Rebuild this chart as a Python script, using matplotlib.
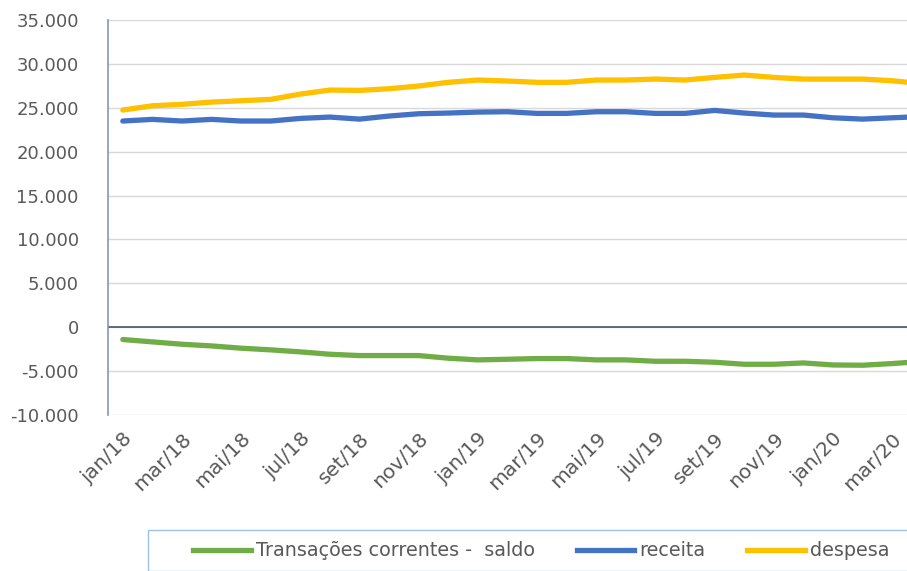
import matplotlib
matplotlib.use("Agg")
import matplotlib.pyplot as plt
import matplotlib.ticker as mticker
from matplotlib.lines import Line2D
from matplotlib.patches import Rectangle
import numpy as np

MONTHS = ["jan/18", "fev/18", "mar/18", "abr/18", "mai/18", "jun/18", "jul/18",
          "ago/18", "set/18", "out/18", "nov/18", "dez/18", "jan/19", "fev/19",
          "mar/19", "abr/19", "mai/19", "jun/19", "jul/19", "ago/19", "set/19",
          "out/19", "nov/19", "dez/19", "jan/20", "fev/20", "mar/20", "abr/20"]
SALDO = [-1400, -1670, -1940, -2130, -2390, -2580, -2810, -3080, -3230, -3230,
         -3230, -3530, -3720, -3650, -3570, -3570, -3720, -3720, -3880, -3880,
         -3990, -4220, -4220, -4070, -4300, -4330, -4140, -3900]
RECEITA = [23490, 23680, 23490, 23680, 23490, 23490, 23790, 23940, 23710, 24060,
           24320, 24400, 24510, 24550, 24360, 24360, 24550, 24550, 24360, 24360,
           24700, 24400, 24170, 24170, 23860, 23710, 23860, 24000]
DESPESA = [24740, 25230, 25390, 25650, 25800, 25960, 26560, 27020, 26980, 27170,
           27480, 27900, 28160, 28050, 27900, 27900, 28160, 28160, 28270, 28160,
           28460, 28730, 28460, 28270, 28270, 28270, 28080, 27750]
LABELS = ["Transações correntes -  saldo", "receita", "despesa"]
COLORS = ["#70ad47", "#4472c4", "#ffc000"]

plt.rcParams["font.family"] = ["DejaVu Sans"]

fig = plt.figure(figsize=(9.07, 5.71), dpi=100)
ax = fig.add_axes([108 / 907, 1 - 415 / 571, 1 - 108 / 907, (415 - 20) / 571])

x = np.arange(len(MONTHS))
for vals, c in zip([SALDO, RECEITA, DESPESA], COLORS):
    ax.plot(x, vals, color=c, lw=3.8, solid_capstyle="round", solid_joinstyle="round",
            zorder=3)

ax.set_xlim(-0.5, 26.5)
ax.set_ylim(-10000, 35000)
ax.set_yticks(np.arange(-10000, 35001, 5000))
ax.yaxis.set_major_formatter(mticker.FuncFormatter(lambda v, p: f"{v:,.0f}".replace(",", ".")))
ax.grid(axis="y", color="#d9d9d9", lw=1.0, zorder=0)
ax.axhline(0, color="#44546a", lw=1.2, zorder=2)

ax.set_xticks(x[:27:2])
ax.set_xticklabels(MONTHS[:27:2], rotation=45, ha="right", rotation_mode="anchor")
ax.tick_params(axis="both", length=0, labelcolor="#595959")
ax.tick_params(axis="y", pad=21, labelsize=13)
ax.tick_params(axis="x", pad=10, labelsize=14.5)

for s in ["top", "right", "bottom"]:
    ax.spines[s].set_visible(False)
ax.spines["left"].set_color("#8497b0")
ax.spines["left"].set_linewidth(1.2)

# legend box, cut by the figure edge like the original
fig.patches.append(Rectangle((148 / 907, 0), 1.0, 1 - 530 / 571, transform=fig.transFigure,
                             fill=False, edgecolor="#9dc3e6", lw=1.0))
handles = [Line2D([], [], color=c, lw=3.8) for c in COLORS]
fig.legend(handles, LABELS, loc="center left", bbox_to_anchor=(176 / 907, 1 - 551 / 571),
           ncol=3, frameon=False, handlelength=3.0, handletextpad=0.25, columnspacing=2.2,
           fontsize=13.8, labelcolor="#595959")

fig.savefig("out.png", dpi=100, facecolor="white")
